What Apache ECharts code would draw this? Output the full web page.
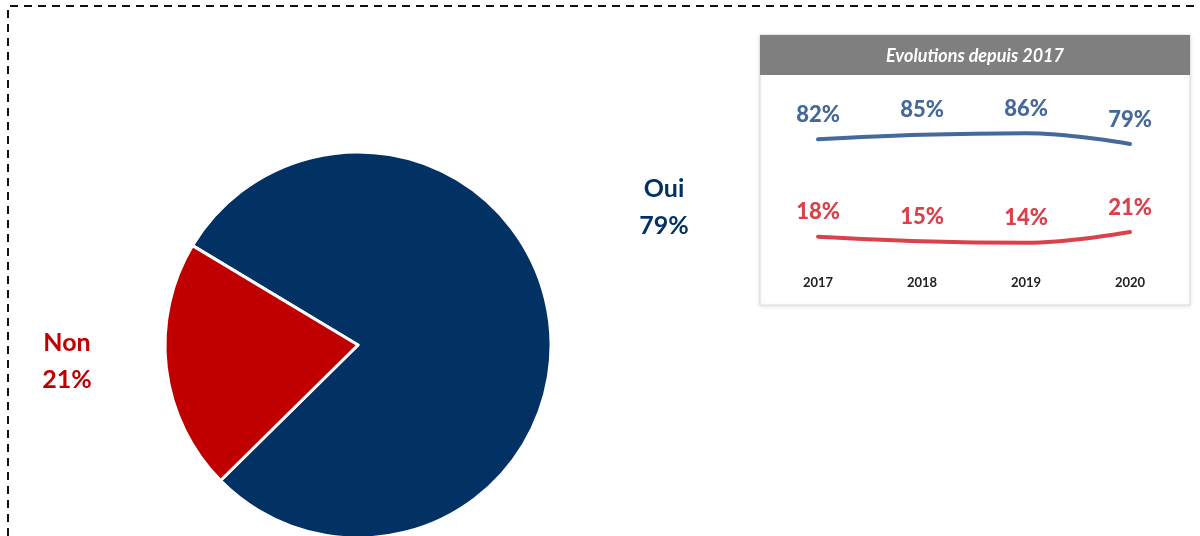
<!DOCTYPE html>
<html>
<head>
<meta charset="utf-8">
<script src="https://cdn.jsdelivr.net/npm/echarts@6/dist/echarts.min.js"></script>
<style>html,body{margin:0;padding:0;background:#fff}#c{width:1200px;height:536px}</style>
</head>
<body>
<div id="c"></div>
<script>
const pieNames = ['Oui', 'Non'];
const pieValues = [79, 21];
const years = ['2017', '2018', '2019', '2020'];
const ouiSeries = [82, 85, 86, 79];
const nonSeries = [18, 15, 14, 21];
const insetTitle = 'Evolutions depuis 2017';

const NAVY = '#023264', RED = '#C00000', BLUE_L = '#44699A', RED_L = '#DA424B';
const FONT = 'Lato';

const chart = echarts.init(document.getElementById('c'), null, {renderer: 'canvas'});
const labelPos = [{x: 664, y: 207}, {x: 67, y: 361}];
function lineSeries(data, color) {
  return {
    type: 'line', data: data, smooth: 0.4, showSymbol: true, symbol: 'circle', symbolSize: 1,
    itemStyle: {color: 'rgba(0,0,0,0)'},
    lineStyle: {color: color, width: 4, cap: 'round'},
    label: {show: true, position: 'top', distance: 13, formatter: '{c}%', color: color, fontFamily: FONT, fontWeight: 900, fontSize: 22},
    emphasis: {disabled: true},
    silent: true
  };
}
const option = {
  animation: false,
  backgroundColor: '#fff',
  graphic: [
    {type: 'polyline', shape: {points: [[8, 536], [8, 6], [1200, 6]]}, style: {stroke: '#111', lineWidth: 2, lineDash: [8, 6], fill: null}},
    {type: 'rect', shape: {x: 760, y: 35, width: 430, height: 270}, style: {fill: '#fff', stroke: '#dcdcdc', lineWidth: 1, shadowBlur: 4, shadowColor: 'rgba(0,0,0,0.12)', shadowOffsetY: 1}, z: -1},
    {type: 'rect', shape: {x: 760, y: 35, width: 430, height: 40}, style: {fill: '#7F7F7F'}, z: 0},
    {type: 'text', x: 975, y: 56, style: {text: insetTitle, fill: '#fff', font: 'italic bold 18px ' + FONT, textAlign: 'center', textVerticalAlign: 'middle'}, z: 1}
  ],
  grid: {left: 818, right: 70, top: 112, bottom: 272},
  xAxis: {
    type: 'category', data: years, boundaryGap: false,
    axisLine: {show: false}, axisTick: {show: false}, splitLine: {show: false},
    axisLabel: {interval: 0, margin: 12, color: '#222', fontFamily: FONT, fontWeight: 'bold', fontSize: 13}
  },
  yAxis: {type: 'value', min: 0, max: 100, show: false, splitLine: {show: false}},
  series: [
    {
      type: 'pie', center: [358, 345], radius: 193, startAngle: 149, clockwise: true,
      data: pieNames.map((n, i) => ({name: n, value: pieValues[i], itemStyle: {color: i === 0 ? NAVY : RED}})),
      itemStyle: {borderColor: '#fff', borderWidth: 3},
      label: {
        show: true, formatter: '{b}\n{c}%', fontFamily: FONT, fontWeight: 'bold', fontSize: 25, lineHeight: 37,
        color: 'inherit', align: 'center'
      },
      labelLine: {show: false},
      labelLayout: function (p) {
        const pos = labelPos[p.dataIndex];
        return {x: pos.x, y: pos.y, align: 'center', verticalAlign: 'middle'};
      },
      emphasis: {disabled: true}, silent: true
    },
    lineSeries(ouiSeries, BLUE_L),
    lineSeries(nonSeries, RED_L)
  ]
};
chart.setOption(option);
</script>
</body>
</html>
